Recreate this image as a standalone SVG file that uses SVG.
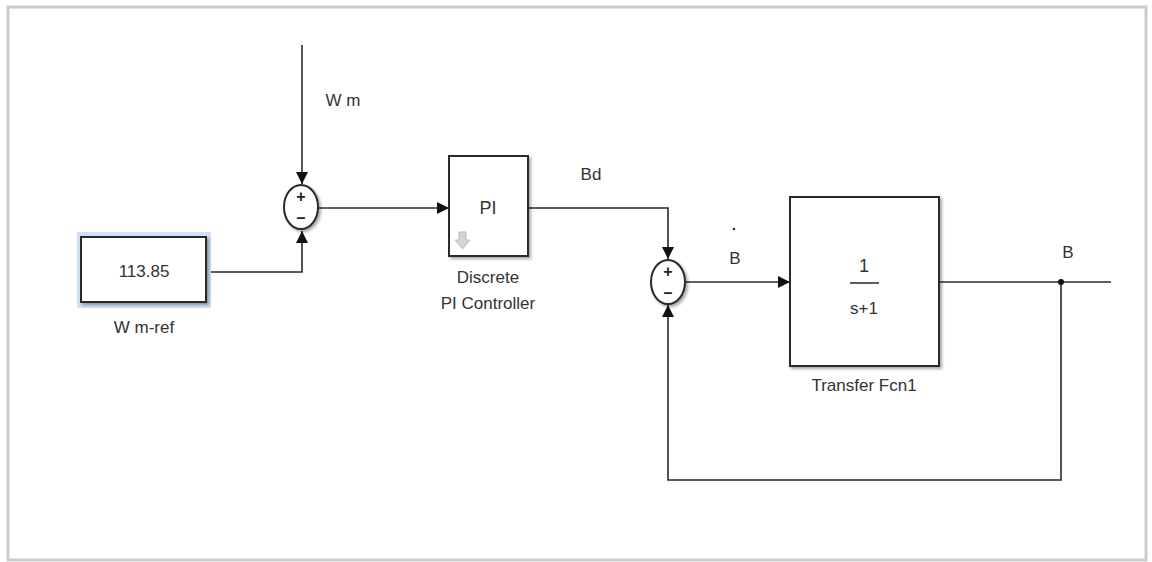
<svg xmlns="http://www.w3.org/2000/svg" width="1152" height="562" viewBox="0 0 1152 562">
<defs>
<style>
.ln{fill:none;stroke:#2a2a2a;stroke-width:1.6}
.blk{fill:#fff;stroke:#2a2a2a;stroke-width:2}
.sum{fill:#fff;stroke:#2a2a2a;stroke-width:2}
.t{font-family:"Liberation Sans",Arial,sans-serif;fill:#333;text-anchor:middle}
.sg{font-family:"Liberation Sans",Arial,sans-serif;fill:#222;text-anchor:middle;font-size:16px;font-weight:bold}
</style>
<marker id="ar" viewBox="0 0 10 10" refX="10" refY="5" markerWidth="12" markerHeight="12" markerUnits="userSpaceOnUse" orient="auto">
<path d="M0,0 L10,5 L0,10 Z" fill="#111"/>
</marker>
<filter id="sh" x="-20%" y="-20%" width="150%" height="150%">
<feDropShadow dx="2" dy="2" stdDeviation="1.5" flood-color="#000" flood-opacity="0.35"/>
</filter>
</defs>
<rect x="0" y="0" width="1152" height="562" fill="#fff"/>
<rect x="8" y="7" width="1138" height="553" fill="#fff" stroke="#cccccc" stroke-width="3"/>
<g id="connectors">
<path class="ln" d="M302,45 V184" marker-end="url(#ar)"/>
<path class="ln" d="M207,272 H302 V231" marker-end="url(#ar)"/>
<path class="ln" d="M319,208 H449" marker-end="url(#ar)"/>
<path class="ln" d="M528,208 H668 V259" marker-end="url(#ar)"/>
<path class="ln" d="M686,282 H790" marker-end="url(#ar)"/>
<path class="ln" d="M940,282 H1111"/>
<path class="ln" d="M1061,282 V480 H668 V305" marker-end="url(#ar)"/>
<circle cx="1061" cy="282" r="3" fill="#111"/>
</g>
<g id="wm-label"><text class="t" x="343" y="106" font-size="17">W m</text></g>
<g id="const">
<rect x="77" y="232" width="134" height="76" fill="#cfe0f7"/>
<rect class="blk" x="81" y="237" width="125" height="65" filter="url(#sh)"/>
<text class="t" x="144" y="277" font-size="17">113.85</text>
<text class="t" x="144" y="333" font-size="17">W m-ref</text>
</g>
<g id="sum1">
<ellipse class="sum" cx="301" cy="207" rx="17" ry="22" filter="url(#sh)"/>
<text class="sg" x="301" y="202">+</text>
<text class="sg" x="301" y="223">–</text>
</g>
<g id="pi">
<rect class="blk" x="449" y="156" width="79" height="100" filter="url(#sh)"/>
<text class="t" x="488" y="214" font-size="18">PI</text>
<path d="M459,232 H466 V240 H470 L462.5,249 L455,240 H459 Z" fill="#d4d4d4" stroke="#bdbdbd" stroke-width="1"/>
<text class="t" x="488" y="283" font-size="17">Discrete</text>
<text class="t" x="488" y="309" font-size="17">PI Controller</text>
</g>
<g id="bd-label"><text class="t" x="591" y="180" font-size="17">Bd</text></g>
<g id="sum2">
<ellipse class="sum" cx="668" cy="282" rx="17" ry="22" filter="url(#sh)"/>
<text class="sg" x="668" y="277">+</text>
<text class="sg" x="668" y="298">–</text>
</g>
<g id="bdot-label">
<circle cx="734" cy="229" r="1.3" fill="#333"/>
<text class="t" x="735" y="264" font-size="17">B</text>
</g>
<g id="tf">
<rect class="blk" x="790" y="197" width="149" height="169" filter="url(#sh)"/>
<text class="t" x="864" y="272" font-size="18">1</text>
<line x1="850" y1="283" x2="879" y2="283" stroke="#333" stroke-width="1.6"/>
<text class="t" x="864" y="314" font-size="17">s+1</text>
<text class="t" x="864" y="391" font-size="17">Transfer Fcn1</text>
</g>
<g id="b-label"><text class="t" x="1068" y="258" font-size="17">B</text></g>
</svg>
